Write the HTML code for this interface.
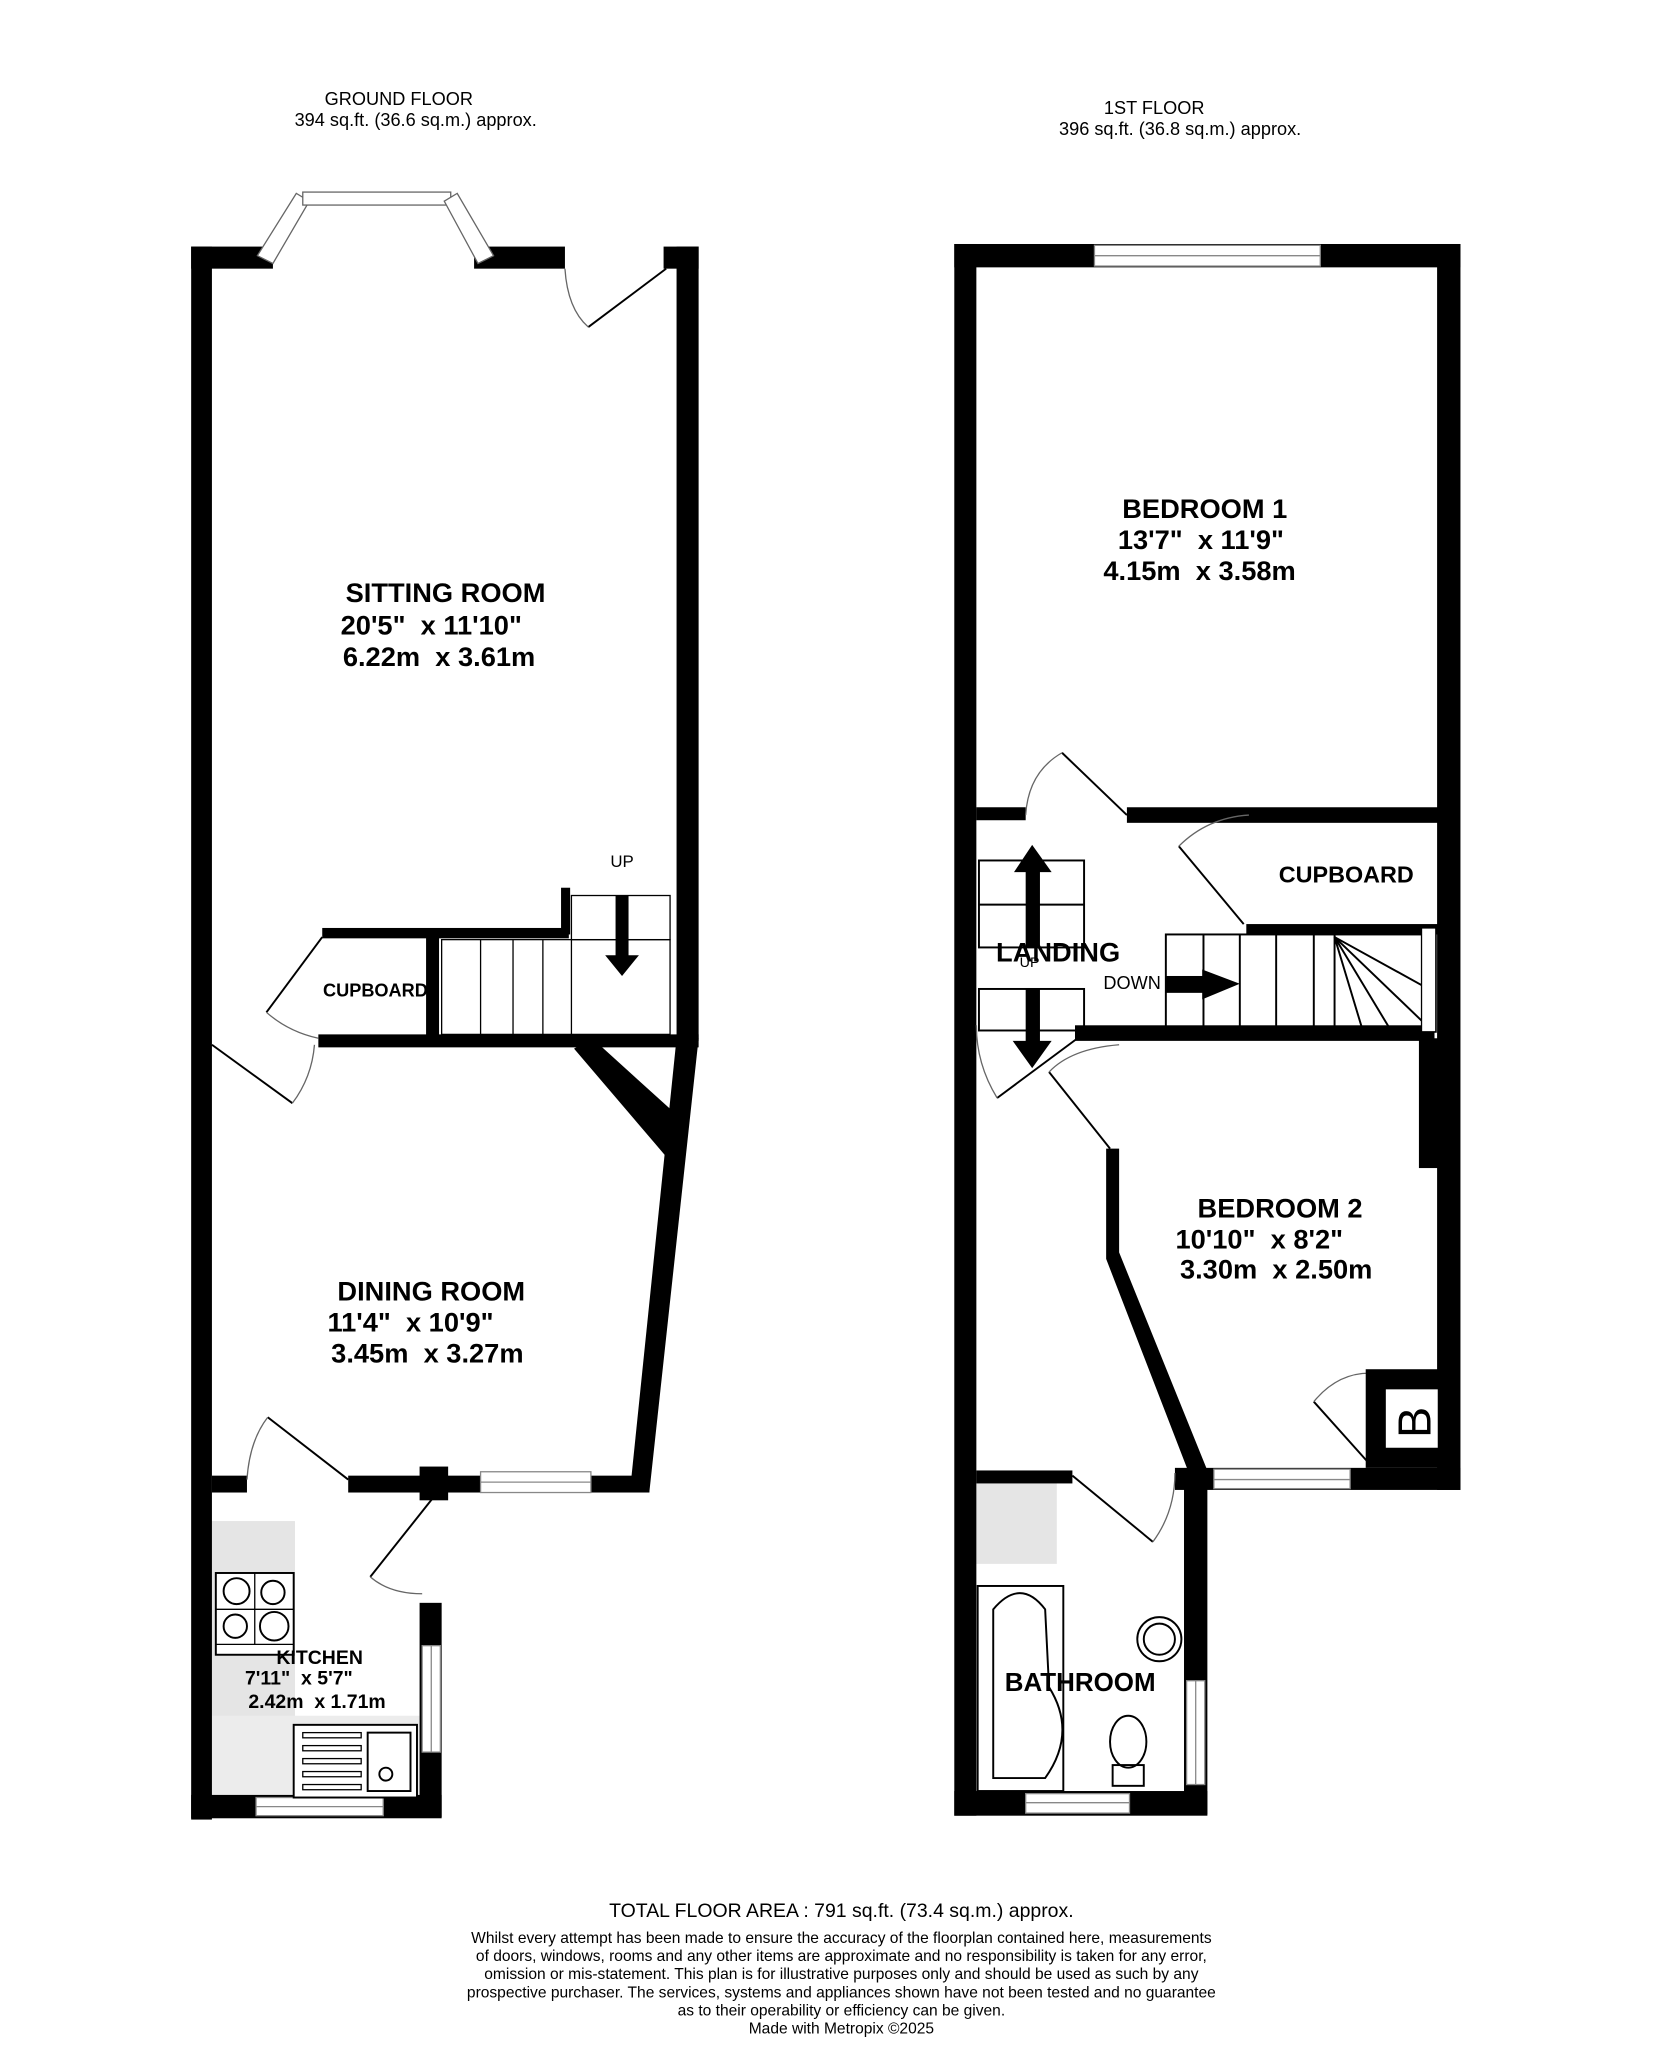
<!DOCTYPE html>
<html><head><style>
html,body{margin:0;padding:0;background:#fff;}
svg{display:block;}
text{font-family:"Liberation Sans",Arial,sans-serif;fill:#000;white-space:pre;}
.b{font-weight:bold;font-size:21px;}
</style></head><body>
<svg width="1662" height="2048" viewBox="0 0 1280 1578" xmlns="http://www.w3.org/2000/svg">
<rect width="1280" height="1578" fill="#fff"/>
<text x="307" y="81" font-size="14" text-anchor="middle">GROUND FLOOR</text>
<text x="320" y="97" font-size="14" text-anchor="middle">394 sq.ft. (36.6 sq.m.) approx.</text>
<text x="889" y="88" font-size="14" text-anchor="middle">1ST FLOOR</text>
<text x="909" y="104" font-size="14" text-anchor="middle">396 sq.ft. (36.8 sq.m.) approx.</text>

<!-- kitchen background fittings -->
<rect x="163" y="1172" width="64" height="212" fill="#e5e5e5"/>
<rect x="163" y="1322" width="160" height="62" fill="#ececec"/>
<rect x="752" y="1143" width="62" height="62" fill="#e5e5e5"/>

<g fill="#000">
<rect x="147" y="190" width="16" height="1212"/>
<rect x="147" y="190" width="63" height="17"/>
<rect x="365" y="190" width="70" height="17"/>
<rect x="511" y="190" width="27" height="17"/>
<rect x="521" y="190" width="17" height="612"/>
<polygon points="521,800 538,800 500,1150 485,1150"/>
<polygon points="442,808 456,800 520,858 512,890"/>
<rect x="248" y="715" width="190" height="8"/>
<rect x="432" y="684" width="7" height="36"/>
<rect x="328" y="718" width="10" height="86"/>
<rect x="245" y="797" width="293" height="10"/>
<rect x="163" y="1137" width="27" height="13"/>
<rect x="268" y="1137" width="232" height="13"/>
<rect x="323" y="1130" width="22" height="26"/>
<rect x="147" y="1383" width="193" height="18"/>
<rect x="323" y="1235" width="17" height="165"/>
</g>
<rect x="370" y="1134" width="85" height="16" fill="#fff" stroke="#888" stroke-width="1"/>
<line x1="370" y1="1142" x2="455" y2="1142" stroke="#888"/>
<rect x="325" y="1268" width="14" height="82" fill="#fff" stroke="#888"/>
<line x1="332" y1="1268" x2="332" y2="1350" stroke="#888"/>
<rect x="197" y="1385" width="98" height="14" fill="#fff" stroke="#888"/>
<line x1="197" y1="1392" x2="295" y2="1392" stroke="#888"/>
<polygon points="198,197 228,149 238,155 210,203" fill="#fff" stroke="#666"/>
<rect x="233" y="148" width="114" height="10" fill="#fff" stroke="#666"/>
<polygon points="342,155 352,149 380,197 368,203" fill="#fff" stroke="#666"/>
<g stroke="#000" fill="none" stroke-width="1.5">
<line x1="513" y1="207" x2="453" y2="252"/>
<path d="M435,207 Q437,238 453,252" stroke="#666" stroke-width="1"/>
<line x1="248" y1="722" x2="205" y2="780"/>
<path d="M205,780 Q222,795 245,800" stroke="#666" stroke-width="1"/>
<line x1="163" y1="805" x2="225" y2="850"/>
<path d="M225,850 Q240,830 242,805" stroke="#666" stroke-width="1"/>
<line x1="206" y1="1092" x2="268" y2="1140"/>
<path d="M206,1092 Q192,1110 190,1140" stroke="#666" stroke-width="1"/>
<line x1="335" y1="1152" x2="285" y2="1215"/>
<path d="M285,1215 Q300,1228 325,1228" stroke="#666" stroke-width="1"/>
<rect x="340" y="724" width="176" height="73" stroke-width="1"/>
<rect x="440" y="690" width="76" height="34" stroke-width="1"/>
<line x1="440" y1="724" x2="440" y2="797" stroke-width="1"/>
<line x1="370" y1="724" x2="370" y2="797" stroke-width="1"/>
<line x1="395" y1="724" x2="395" y2="797" stroke-width="1"/>
<line x1="418" y1="724" x2="418" y2="797" stroke-width="1"/>
</g>
<rect x="474" y="690" width="10" height="48"/>
<polygon points="466,736 492,736 479,752"/>
<text x="479" y="668" font-size="13" text-anchor="middle">UP</text>
<g stroke="#000" fill="none" stroke-width="1.5">
<rect x="166" y="1212" width="60" height="63" fill="#fff"/>
<line x1="166" y1="1267" x2="226" y2="1267" stroke-width="1"/>
<line x1="196" y1="1212" x2="196" y2="1267" stroke-width="1"/>
<line x1="166" y1="1240" x2="226" y2="1240" stroke-width="1"/>
<circle cx="182" cy="1226" r="10"/><circle cx="210" cy="1227" r="9"/>
<circle cx="181" cy="1253" r="9"/><circle cx="211" cy="1253" r="11"/>
<rect x="226" y="1329" width="95" height="56" fill="#fff"/>
<rect x="283" y="1335" width="33" height="45"/>
<circle cx="297" cy="1367" r="5"/>
</g>
<g fill="none" stroke="#000" stroke-width="1">
<rect x="233" y="1335" width="45" height="4"/><rect x="233" y="1345" width="45" height="4"/>
<rect x="233" y="1355" width="45" height="4"/><rect x="233" y="1365" width="45" height="4"/>
<rect x="233" y="1375" width="45" height="4"/>
</g>
<text class="b" x="343" y="464" text-anchor="middle">SITTING ROOM</text>
<text class="b" x="332" y="489" text-anchor="middle">20'5"  x 11'10"</text>
<text class="b" x="338" y="513" text-anchor="middle">6.22m  x 3.61m</text>
<text x="289" y="768" font-size="14" font-weight="bold" text-anchor="middle">CUPBOARD</text>
<text class="b" x="332" y="1002" text-anchor="middle">DINING ROOM</text>
<text class="b" x="316" y="1026" text-anchor="middle">11'4"  x 10'9"</text>
<text class="b" x="329" y="1050" text-anchor="middle">3.45m  x 3.27m</text>
<text x="246" y="1282" font-size="15" font-weight="bold" text-anchor="middle">KITCHEN</text>
<text x="230" y="1298" font-size="15" font-weight="bold" text-anchor="middle">7'11"  x 5'7"</text>
<text x="244" y="1316" font-size="15" font-weight="bold" text-anchor="middle">2.42m  x 1.71m</text>

<g fill="#000">
<rect x="735" y="188" width="17" height="1211"/>
<rect x="735" y="188" width="390" height="18"/>
<rect x="1107" y="188" width="18" height="960"/>
<rect x="752" y="622" width="38" height="10"/>
<rect x="868" y="622" width="240" height="12"/>
<rect x="960" y="712" width="148" height="8"/>
<rect x="828" y="790" width="277" height="12"/>
<rect x="1093" y="800" width="15" height="100"/>
<polygon points="852,885 862,885 862,965 930,1133 915,1133 852,970"/>
<rect x="905" y="1131" width="220" height="17"/>
<rect x="752" y="1133" width="74" height="10"/>
<rect x="912" y="1138" width="18" height="260"/>
<rect x="735" y="1380" width="195" height="19"/>
</g>
<rect x="843" y="189" width="174" height="16" fill="#fff" stroke="#888"/>
<line x1="843" y1="197" x2="1017" y2="197" stroke="#888"/>
<rect x="935" y="1132" width="105" height="15" fill="#fff" stroke="#888"/>
<line x1="935" y1="1140" x2="1040" y2="1140" stroke="#888"/>
<rect x="914" y="1295" width="14" height="80" fill="#fff" stroke="#888"/>
<line x1="921" y1="1295" x2="921" y2="1375" stroke="#888"/>
<rect x="790" y="1382" width="80" height="15" fill="#fff" stroke="#888"/>
<line x1="790" y1="1389" x2="870" y2="1389" stroke="#888"/>
<g stroke="#000" fill="none" stroke-width="1.5">
<line x1="868" y1="628" x2="818" y2="580"/>
<path d="M818,580 Q792,595 790,628" stroke="#666" stroke-width="1"/>
<line x1="958" y1="712" x2="908" y2="652"/>
<path d="M908,652 Q930,630 962,628" stroke="#666" stroke-width="1"/>
<line x1="830" y1="800" x2="768" y2="846"/>
<path d="M768,846 Q752,820 752,790" stroke="#666" stroke-width="1"/>
<line x1="855" y1="885" x2="808" y2="826"/>
<path d="M808,826 Q825,808 862,805" stroke="#666" stroke-width="1"/>
<line x1="826" y1="1137" x2="888" y2="1188"/>
<path d="M888,1188 Q905,1165 905,1135" stroke="#666" stroke-width="1"/>
<line x1="1055" y1="1128" x2="1012" y2="1080"/>
<path d="M1012,1080 Q1030,1058 1055,1058" stroke="#666" stroke-width="1"/>
<rect x="754" y="663" width="81" height="67"/>
<line x1="754" y1="697" x2="835" y2="697"/>
<rect x="754" y="762" width="81" height="32"/>
<rect x="898" y="720" width="208" height="75"/>
<line x1="927" y1="720" x2="927" y2="795"/><line x1="955" y1="720" x2="955" y2="795"/>
<line x1="983" y1="720" x2="983" y2="795"/><line x1="1012" y1="720" x2="1012" y2="795"/>
<line x1="1028" y1="720" x2="1028" y2="795"/>
<line x1="1028" y1="722" x2="1104" y2="764"/>
<line x1="1028" y1="722" x2="1104" y2="795"/>
<line x1="1028" y1="722" x2="1072" y2="795"/>
<line x1="1028" y1="722" x2="1050" y2="795"/>
</g>
<rect x="1095" y="715" width="11" height="80" fill="#fff" stroke="#000" stroke-width="1"/>
<rect x="1052" y="1055" width="56" height="76" fill="#000"/>
<rect x="1067" y="1070" width="41" height="46" fill="#fff" stroke="#000"/>
<text x="1088" y="1110" font-size="36" text-anchor="middle" transform="rotate(-90 1088 1096)">B</text>
<rect x="790" y="664" width="11" height="66"/>
<polygon points="781,672 810,672 795,651"/>
<rect x="790" y="762" width="11" height="42"/>
<polygon points="780,802 810,802 795,823"/>
<rect x="898" y="752" width="30" height="13"/>
<polygon points="926,747 926,770 955,758"/>
<g stroke="#000" fill="none" stroke-width="1.5">
<rect x="753" y="1222" width="66" height="158"/>
<path d="M765,1240 Q786,1215 805,1240 L808,1300 Q830,1335 805,1370 L765,1370 Z"/>
<circle cx="893" cy="1263" r="17"/><circle cx="893" cy="1263" r="12"/>
<ellipse cx="869" cy="1342" rx="14" ry="20"/>
<rect x="857" y="1360" width="24" height="16"/>
</g>
<text class="b" x="928" y="399" text-anchor="middle">BEDROOM 1</text>
<text class="b" x="925" y="423" text-anchor="middle">13'7"  x 11'9"</text>
<text class="b" x="924" y="447" text-anchor="middle">4.15m  x 3.58m</text>
<text x="1037" y="680" font-size="18" font-weight="bold" text-anchor="middle">CUPBOARD</text>
<text class="b" x="815" y="741" text-anchor="middle">LANDING</text>
<text x="793" y="745" font-size="11" text-anchor="middle">UP</text>
<text x="872" y="762" font-size="14" text-anchor="middle">DOWN</text>
<text class="b" x="986" y="938" text-anchor="middle">BEDROOM 2</text>
<text class="b" x="970" y="962" text-anchor="middle">10'10"  x 8'2"</text>
<text class="b" x="983" y="985" text-anchor="middle">3.30m  x 2.50m</text>
<text x="832" y="1303" font-size="20" font-weight="bold" text-anchor="middle">BATHROOM</text>

<text x="648" y="1477" font-size="15" text-anchor="middle">TOTAL FLOOR AREA : 791 sq.ft. (73.4 sq.m.) approx.</text>
<g font-size="12" text-anchor="middle">
<text x="648" y="1497">Whilst every attempt has been made to ensure the accuracy of the floorplan contained here, measurements</text>
<text x="648" y="1511">of doors, windows, rooms and any other items are approximate and no responsibility is taken for any error,</text>
<text x="648" y="1525">omission or mis-statement. This plan is for illustrative purposes only and should be used as such by any</text>
<text x="648" y="1539">prospective purchaser. The services, systems and appliances shown have not been tested and no guarantee</text>
<text x="648" y="1553">as to their operability or efficiency can be given.</text>
<text x="648" y="1567">Made with Metropix ©2025</text>
</g>
</svg>
</body></html>
